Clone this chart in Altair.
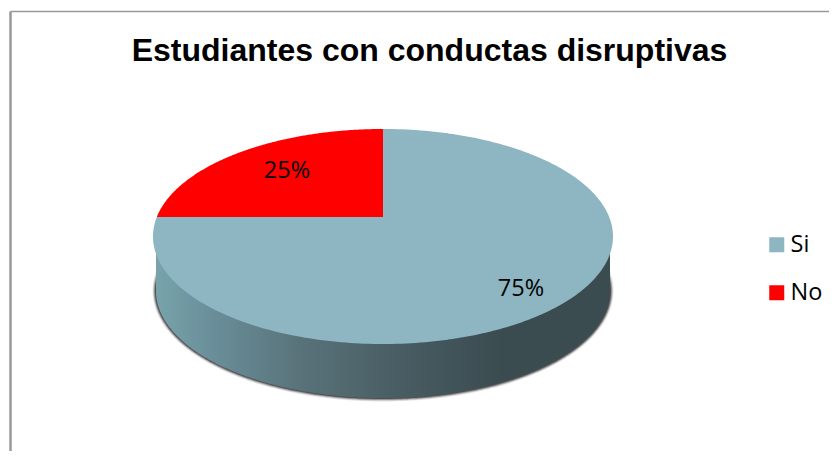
import numpy as np
import pandas as pd
import altair as alt

categories = ["Si", "No"]
shares = [75, 25]
colors = ["#8db6c2", "#ff0000"]
title_text = "Estudiantes con conductas disruptivas"

W, H = 821, 443
CX, CY, RX, RY = 375, 228.5, 230, 107.5      # top ellipse
PY = 209                                     # perspective centre of the pie
WCY, WRX, WRY = 283, 227, 107                # bottom rim


def rim_param(theta):
    """Ellipse parameter where the ray at pie angle theta (deg, clockwise from top) meets the rim."""
    th = np.radians(theta)
    dx, dy = np.sin(th), -np.cos(th)
    a = (dx / RX) ** 2 + (dy / RY) ** 2
    b = 2 * (PY - CY) * dy / RY ** 2
    c = ((PY - CY) / RY) ** 2 - 1
    s = (-b + np.sqrt(b * b - 4 * a * c)) / (2 * a)
    return np.arctan2((s * dx) / RX, -(PY - CY + s * dy) / RY)


def slice_rows(name, start, end):
    t0, t1 = rim_param(start), rim_param(end)
    if t1 <= t0:
        t1 += 2 * np.pi
    t = np.linspace(t0, t1, 241)
    px = np.r_[CX, CX + RX * np.sin(t)]
    py = np.r_[PY, CY - RY * np.cos(t)]
    eps = 1e-3
    grid = np.unique(np.r_[px, CX - eps, CX + eps])
    qx, qy = np.roll(px, -1), np.roll(py, -1)
    rows = []
    for x in grid:
        ys = []
        for a, b, c, d in zip(px, py, qx, qy):
            if a != c and min(a, c) <= x <= max(a, c):
                ys.append(b + (x - a) / (c - a) * (d - b))
        if ys:
            rows.append({"categoria": name, "x": x, "y": min(ys), "y2": max(ys)})
    return rows


rows = []
angle = 0.0
for name, share in zip(categories, shares):
    rows += slice_rows(name, angle, angle + share * 3.6)
    angle += share * 3.6
slices = pd.DataFrame(rows)

xs = alt.X("x:Q", scale=alt.Scale(domain=[0, W], nice=False, zero=False), axis=None)
ys = alt.Y("y:Q", scale=alt.Scale(domain=[H, 0], nice=False, zero=False), axis=None)


def ellipse_df(rx, ry, cy):
    t = np.linspace(-np.pi, 0, 241)
    x = CX + rx * np.cos(t)
    h = ry * np.sin(-t)
    return pd.DataFrame({"x": x, "y": cy - h, "y2": cy + h})


layers = []
# frame
layers.append(
    alt.Chart(pd.DataFrame({"x": [2.5], "y": [3.5], "y2": [H]}))
    .mark_rule(color="#999999", strokeWidth=2.5)
    .encode(x=xs, y=ys, y2="y2:Q")
)
layers.append(
    alt.Chart(pd.DataFrame({"x": [2.5], "x2": [W], "y": [3.5]}))
    .mark_rule(color="#999999", strokeWidth=1.5)
    .encode(x=xs, x2="x2:Q", y=ys)
)
# soft shadow under the pie
for grow, op in [(3.5, 0.10), (2.6, 0.18), (1.8, 0.28), (1.0, 0.40)]:
    layers.append(
        alt.Chart(ellipse_df(WRX + grow, WRY + grow, WCY))
        .mark_area(color="#000000", opacity=op)
        .encode(x=xs, y=ys, y2="y2:Q")
    )
# side wall
wall = ellipse_df(WRX, WRY, WCY)
wall["y"] = CY
gradient = alt.LinearGradient(
    gradient="linear", x1=0, x2=1, y1=0, y2=0,
    stops=[
        alt.GradientStop(color="#78a3ab", offset=0),
        alt.GradientStop(color="#6a8f9a", offset=0.12),
        alt.GradientStop(color="#587178", offset=0.33),
        alt.GradientStop(color="#45595f", offset=0.58),
        alt.GradientStop(color="#3b4c50", offset=0.76),
        alt.GradientStop(color="#3b4c50", offset=1),
    ],
)
layers.append(
    alt.Chart(wall).mark_area(color=gradient).encode(x=xs, y=ys, y2="y2:Q")
)
# top face
layers.append(
    alt.Chart(slices)
    .mark_area()
    .encode(
        x=xs, y=ys, y2="y2:Q",
        color=alt.Color(
            "categoria:N",
            scale=alt.Scale(domain=categories, range=colors),
            legend=alt.Legend(
                title=None, orient="none", legendX=757, legendY=225,
                symbolType="square", symbolSize=225, symbolStrokeWidth=0,
                labelFont="Open Sans", labelFontSize=23.5, labelColor="#000000",
                rowPadding=23, labelOffset=2,
            ),
        ),
    )
)
# percent labels
layers.append(
    alt.Chart(pd.DataFrame({
        "x": [513, 279], "y": [281, 163], "t": [f"{s}%" for s in shares],
    }))
    .mark_text(font="Open Sans", fontSize=23.5, color="#000000")
    .encode(x=xs, y=ys, text="t:N")
)
# title
layers.append(
    alt.Chart(pd.DataFrame({"x": [421.5], "y": [53], "t": [title_text]}))
    .mark_text(font="Liberation Sans", fontSize=32, fontWeight="bold", color="#000000", baseline="alphabetic")
    .encode(x=xs, y=ys, text="t:N")
)

chart = (
    alt.layer(*layers)
    .properties(width=W, height=H, padding=0, autosize=alt.AutoSizeParams(type="none"), background="#ffffff")
    .configure_view(stroke=None)
)
chart.save("out.html", embed_options={"renderer": "svg", "actions": False})
